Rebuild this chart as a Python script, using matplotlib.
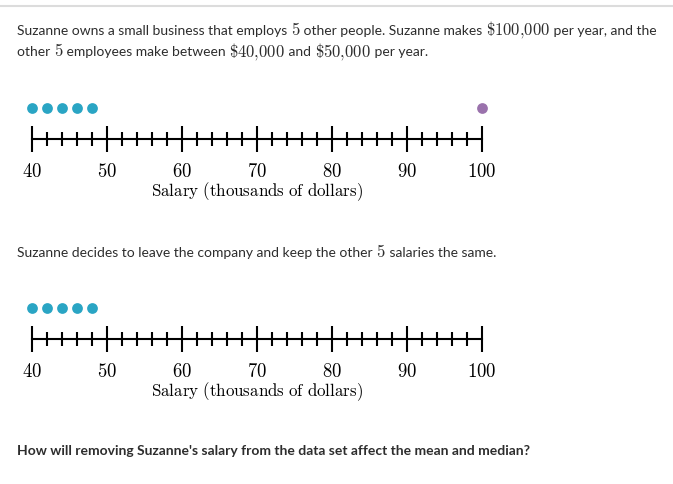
import numpy as np
import matplotlib
matplotlib.use('Agg')
import matplotlib.pyplot as plt
from matplotlib.ticker import MultipleLocator
from matplotlib.transforms import offset_copy

# data: salaries in thousands of dollars
employees = [40, 42, 44, 46, 48]
suzanne = [100]
major_ticks = [40, 50, 60, 70, 80, 90, 100]

teal = '#2aa5c4'
purple = '#9a72ac'

plt.rcParams['font.family'] = ['Lato', 'DejaVu Sans']
plt.rcParams['mathtext.fontset'] = 'cm'

W, H = 673, 484
fig = plt.figure(figsize=(W / 100, H / 100), dpi=100)
renderer = fig.canvas.get_renderer()


def px(x, y):
    # pixel coords (from top-left) -> figure fraction
    return x / W, 1 - y / H


def rich_text(x, y, pieces, size=10, math_size=12, **kw):
    # draw text pieces one after another; pieces starting with '$' are math (bigger)
    xf, yf = px(x, y)
    dx = 0
    for p in pieces:
        fs = math_size if p.startswith('$') else size
        tr = offset_copy(fig.transFigure, fig=fig, x=dx, y=0, units='dots')
        t = fig.text(xf, yf, p, fontsize=fs, transform=tr, va='baseline', **kw)
        bb = t.get_window_extent(renderer)
        dx += bb.width


# thin gray line at the top
fig.add_artist(plt.Line2D([0, 1], [1 - 6 / H, 1 - 6 / H], color='#dcdcdc', lw=1.5))

txt_color = '#2d2d2d'
rich_text(17, 35, ['Suzanne owns a small business that employs ', r'$5$',
                   ' other people. Suzanne makes ', r'$\$100{,}000$', ' per year, and the'],
          color=txt_color)
rich_text(17, 56, ['other ', r'$5$', ' employees make between ', r'$\$40{,}000$', ' and ',
                   r'$\$50{,}000$', ' per year.'], color=txt_color)
rich_text(17, 257, ['Suzanne decides to leave the company and keep the other ', r'$5$',
                    ' salaries the same.'], color=txt_color)
rich_text(17, 455, ["How will removing Suzanne's salary from the data set affect the mean and median?"],
          color=txt_color, fontweight='bold')


def number_line(y_line, with_suzanne):
    left, bottom = px(32, y_line)
    ax = fig.add_axes([left, bottom, 450 / W, 39 / H])
    ax.set_xlim(40, 100)
    ax.set_ylim(0, 1.25)
    ax.scatter(employees, [1] * len(employees), s=60, color=teal, clip_on=False, zorder=3, linewidths=0)
    if with_suzanne:
        ax.scatter(suzanne, [1], s=60, color=purple, clip_on=False, zorder=3, linewidths=0)
    for s in ['top', 'left', 'right']:
        ax.spines[s].set_visible(False)
    ax.spines['bottom'].set_linewidth(1.5)
    ax.spines['bottom'].set_color('black')
    ax.yaxis.set_visible(False)
    ax.set_xticks(major_ticks)
    ax.set_xticklabels([f'${v}$' for v in major_ticks])
    ax.xaxis.set_minor_locator(MultipleLocator(2))
    ax.tick_params(which='major', direction='inout', length=19, width=1.5, pad=7, labelsize=13.5)
    ax.tick_params(which='minor', direction='inout', length=9.5, width=1.5)
    ax.set_xlabel(r'$\mathrm{Salary\ (thousands\ of\ dollars)}$', fontsize=12.2, labelpad=0)
    ax.patch.set_visible(False)
    return ax


number_line(139, True)
number_line(339, False)

fig.savefig('out.png', dpi=100)
